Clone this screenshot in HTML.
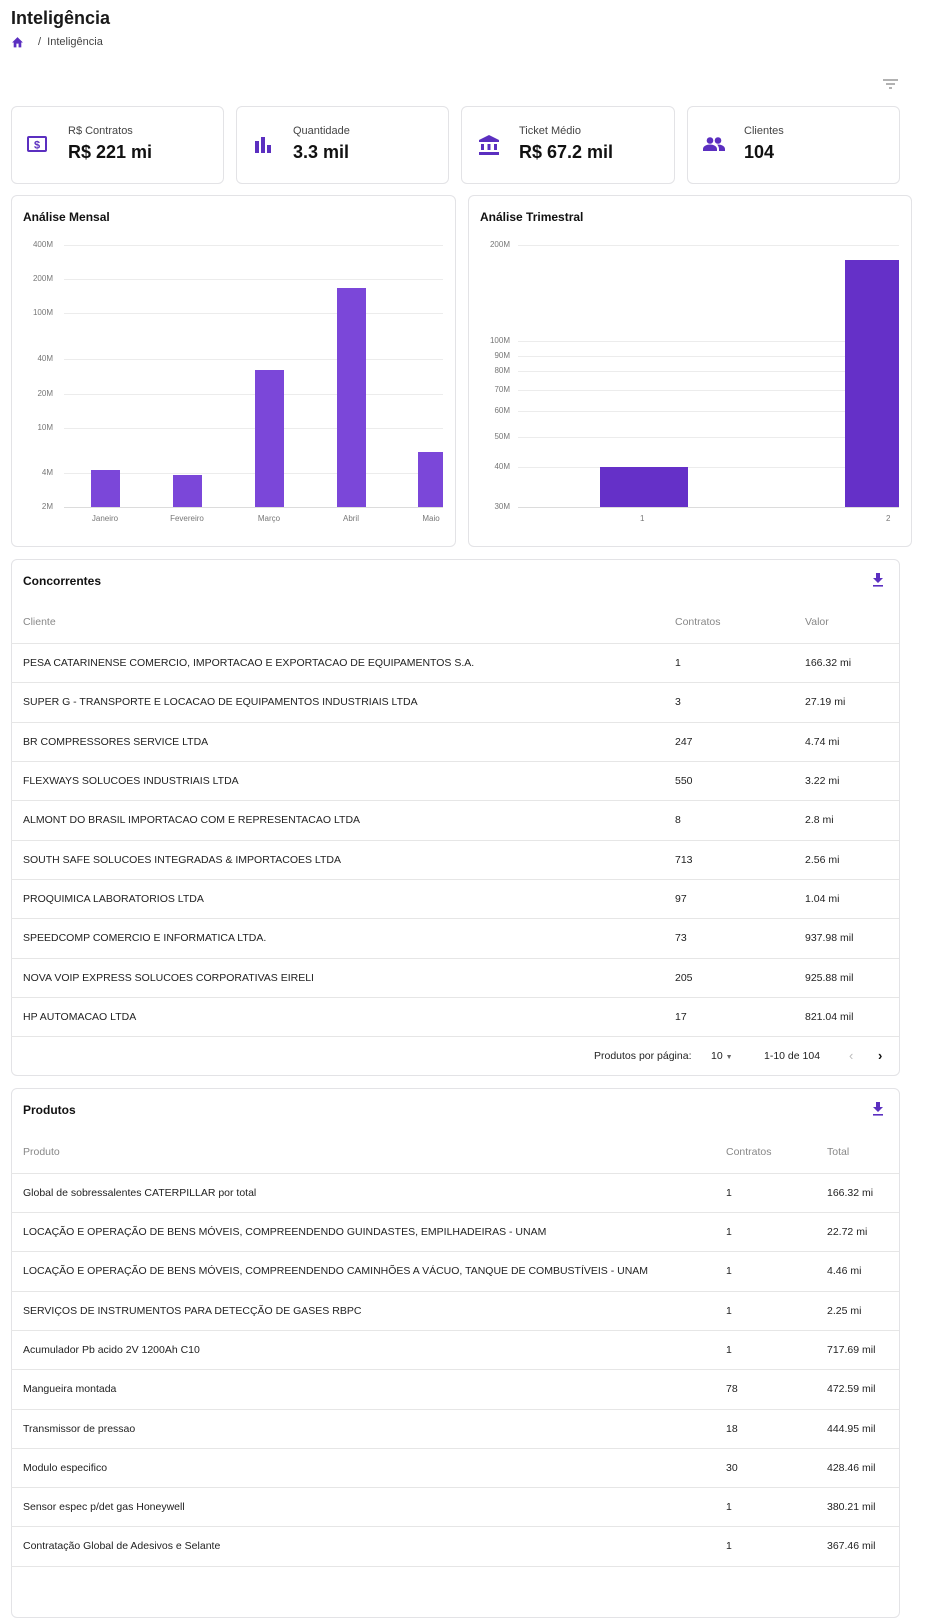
<!DOCTYPE html>
<html><head><meta charset="utf-8"><style>
*{margin:0;padding:0;box-sizing:border-box}
body{width:952px;height:1600px;background:#fff;font-family:"Liberation Sans",sans-serif;color:#1a1a1a;position:relative;overflow:hidden}
.a{position:absolute}
.card{position:absolute;border:1px solid #e3e3e6;border-radius:6px;background:#fff}
.lbl{font-size:11px;color:#444}
.val{font-size:18px;font-weight:bold;color:#111}
.t{font-size:12px;font-weight:bold;color:#111}
.tk{font-size:8px;color:#777;text-align:right;width:40px}
.gl{position:absolute;height:1px;background:#ececec}
.row{position:absolute;left:11px;width:888px;height:1px;background:#e6e6e6}
.c{position:absolute;font-size:10.5px;color:#222;white-space:nowrap}
.h{position:absolute;font-size:10.5px;color:#888}
</style></head><body>
<div class="a" style="left:11px;top:8px;font-size:18px;font-weight:bold">Inteligência</div>
<svg class="a" style="left:11px;top:36px" width="13" height="12" viewBox="0 0 24 22"><path d="M10 21v-7h4v7h5v-9h3L12 2 2 12h3v9z" fill="#5b2fc0"/></svg>
<div class="a" style="left:38px;top:36px;font-size:11px;color:#444">/&nbsp;&nbsp;Inteligência</div>
<svg class="a" style="left:883px;top:78px" width="15" height="12" viewBox="0 0 15 12"><path d="M0 2h15M3 6h9M6 10h3" stroke="#999" stroke-width="1.4"/></svg>

<div class="card" style="left:11px;top:106px;width:213px;height:78px"></div>
<div class="card" style="left:236px;top:106px;width:213px;height:78px"></div>
<div class="card" style="left:461px;top:106px;width:214px;height:78px"></div>
<div class="card" style="left:687px;top:106px;width:213px;height:78px"></div>
<svg class="a" style="left:27px;top:136px" width="20" height="16" viewBox="0 0 20 16"><rect x="1" y="1" width="18" height="14" rx="1" fill="none" stroke="#5b2fc0" stroke-width="2"/><text x="10" y="12.5" font-size="11" font-weight="bold" fill="#5b2fc0" text-anchor="middle" font-family="Liberation Sans">$</text></svg>
<div class="a lbl" style="left:68px;top:125px">R$ Contratos</div>
<div class="a val" style="left:68px;top:142px">R$ 221 mi</div>
<svg class="a" style="left:255px;top:137px" width="16" height="16" viewBox="0 0 16 16"><rect x="0" y="4" width="4" height="12" fill="#5b2fc0"/><rect x="6" y="0" width="4" height="16" fill="#5b2fc0"/><rect x="12" y="8" width="4" height="8" fill="#5b2fc0"/></svg>
<div class="a lbl" style="left:293px;top:125px">Quantidade</div>
<div class="a val" style="left:293px;top:142px">3.3 mil</div>
<svg class="a" style="left:479px;top:135px" width="20" height="20" viewBox="0 0 20 20"><path d="M10 0L0 5v2h20V5z M2 9h3v6H2z M8.5 9h3v6h-3z M15 9h3v6h-3z M0 17h20v3H0z" fill="#5b2fc0"/></svg>
<div class="a lbl" style="left:519px;top:125px">Ticket Médio</div>
<div class="a val" style="left:519px;top:142px">R$ 67.2 mil</div>
<svg class="a" style="left:703px;top:137px" width="22" height="14" viewBox="0 0 22 14"><circle cx="7" cy="3.5" r="3.3" fill="#5b2fc0"/><circle cx="15" cy="3.5" r="3.3" fill="#5b2fc0"/><path d="M0 14v-2c0-3 4-4.5 7-4.5s7 1.5 7 4.5v2z M15 7.5c3 0 7 1.5 7 4.5v2h-6v-2c0-1.6-.7-3-1.8-4.4z" fill="#5b2fc0"/></svg>
<div class="a lbl" style="left:744px;top:125px">Clientes</div>
<div class="a val" style="left:744px;top:142px">104</div>

<!-- Left chart -->
<div class="card" style="left:11px;top:195px;width:445px;height:352px"></div>
<div class="a t" style="left:23px;top:210px">Análise Mensal</div>
<div class="gl" style="left:64px;width:379px;top:245px"></div><div class="a tk" style="left:13px;top:240px">400M</div>
<div class="gl" style="left:64px;width:379px;top:279px"></div><div class="a tk" style="left:13px;top:274px">200M</div>
<div class="gl" style="left:64px;width:379px;top:313px"></div><div class="a tk" style="left:13px;top:308px">100M</div>
<div class="gl" style="left:64px;width:379px;top:359px"></div><div class="a tk" style="left:13px;top:354px">40M</div>
<div class="gl" style="left:64px;width:379px;top:394px"></div><div class="a tk" style="left:13px;top:389px">20M</div>
<div class="gl" style="left:64px;width:379px;top:428px"></div><div class="a tk" style="left:13px;top:423px">10M</div>
<div class="gl" style="left:64px;width:379px;top:473px"></div><div class="a tk" style="left:13px;top:468px">4M</div>
<div class="gl" style="left:64px;width:379px;top:507px;background:#dcdcdc"></div><div class="a tk" style="left:13px;top:502px">2M</div>
<div class="a" style="left:91px;top:470px;width:29px;height:37px;background:#7b47d9"></div>
<div class="a" style="left:173px;top:475px;width:29px;height:32px;background:#7b47d9"></div>
<div class="a" style="left:255px;top:370px;width:29px;height:137px;background:#7b47d9"></div>
<div class="a" style="left:337px;top:288px;width:29px;height:219px;background:#7b47d9"></div>
<div class="a" style="left:418px;top:452px;width:25px;height:55px;background:#7b47d9"></div>
<div class="a" style="font-size:8px;color:#777;top:514px;left:75px;width:60px;text-align:center">Janeiro</div>
<div class="a" style="font-size:8px;color:#777;top:514px;left:157px;width:60px;text-align:center">Fevereiro</div>
<div class="a" style="font-size:8px;color:#777;top:514px;left:239px;width:60px;text-align:center">Março</div>
<div class="a" style="font-size:8px;color:#777;top:514px;left:321px;width:60px;text-align:center">Abril</div>
<div class="a" style="font-size:8px;color:#777;top:514px;left:401px;width:60px;text-align:center">Maio</div>

<!-- Right chart -->
<div class="card" style="left:468px;top:195px;width:444px;height:352px"></div>
<div class="a t" style="left:480px;top:210px">Análise Trimestral</div>
<div class="gl" style="left:518px;width:381px;top:245px"></div><div class="a tk" style="left:470px;top:240px">200M</div>
<div class="gl" style="left:518px;width:381px;top:341px"></div><div class="a tk" style="left:470px;top:336px">100M</div>
<div class="gl" style="left:518px;width:381px;top:356px"></div><div class="a tk" style="left:470px;top:351px">90M</div>
<div class="gl" style="left:518px;width:381px;top:371px"></div><div class="a tk" style="left:470px;top:366px">80M</div>
<div class="gl" style="left:518px;width:381px;top:390px"></div><div class="a tk" style="left:470px;top:385px">70M</div>
<div class="gl" style="left:518px;width:381px;top:411px"></div><div class="a tk" style="left:470px;top:406px">60M</div>
<div class="gl" style="left:518px;width:381px;top:437px"></div><div class="a tk" style="left:470px;top:432px">50M</div>
<div class="gl" style="left:518px;width:381px;top:467px"></div><div class="a tk" style="left:470px;top:462px">40M</div>
<div class="gl" style="left:518px;width:381px;top:507px;background:#dcdcdc"></div><div class="a tk" style="left:470px;top:502px">30M</div>
<div class="a" style="left:600px;top:467px;width:88px;height:40px;background:#6530c8"></div>
<div class="a" style="left:845px;top:260px;width:54px;height:247px;background:#6530c8"></div>
<div class="a" style="font-size:8px;color:#777;top:514px;left:640px">1</div>
<div class="a" style="font-size:8px;color:#777;top:514px;left:886px">2</div>

<!-- Concorrentes -->
<div class="card" style="left:11px;top:559px;width:889px;height:517px"></div>
<div class="a t" style="left:23px;top:574px">Concorrentes</div>
<svg class="a" style="left:872px;top:573px" width="12" height="14" viewBox="0 0 12 14"><path d="M4 0h4v5h3L6 10 1 5h3z" fill="#5b2fc0"/><rect x="1" y="12" width="10" height="1.6" fill="#5b2fc0"/></svg>
<div class="h" style="left:23px;top:616px">Cliente</div><div class="h" style="left:675px;top:616px">Contratos</div><div class="h" style="left:805px;top:616px">Valor</div>
<div class="row" style="top:643px"></div><div class="row" style="top:682px"></div><div class="row" style="top:722px"></div><div class="row" style="top:761px"></div><div class="row" style="top:800px"></div><div class="row" style="top:840px"></div><div class="row" style="top:879px"></div><div class="row" style="top:918px"></div><div class="row" style="top:958px"></div><div class="row" style="top:997px"></div><div class="row" style="top:1036px"></div>
<div class="c" style="left:23px;top:657px">PESA CATARINENSE COMERCIO, IMPORTACAO E EXPORTACAO DE EQUIPAMENTOS S.A.</div><div class="c" style="left:675px;top:657px">1</div><div class="c" style="left:805px;top:657px">166.32 mi</div>
<div class="c" style="left:23px;top:696px">SUPER G - TRANSPORTE E LOCACAO DE EQUIPAMENTOS INDUSTRIAIS LTDA</div><div class="c" style="left:675px;top:696px">3</div><div class="c" style="left:805px;top:696px">27.19 mi</div>
<div class="c" style="left:23px;top:736px">BR COMPRESSORES SERVICE LTDA</div><div class="c" style="left:675px;top:736px">247</div><div class="c" style="left:805px;top:736px">4.74 mi</div>
<div class="c" style="left:23px;top:775px">FLEXWAYS SOLUCOES INDUSTRIAIS LTDA</div><div class="c" style="left:675px;top:775px">550</div><div class="c" style="left:805px;top:775px">3.22 mi</div>
<div class="c" style="left:23px;top:814px">ALMONT DO BRASIL IMPORTACAO COM E REPRESENTACAO LTDA</div><div class="c" style="left:675px;top:814px">8</div><div class="c" style="left:805px;top:814px">2.8 mi</div>
<div class="c" style="left:23px;top:854px">SOUTH SAFE SOLUCOES INTEGRADAS &amp; IMPORTACOES LTDA</div><div class="c" style="left:675px;top:854px">713</div><div class="c" style="left:805px;top:854px">2.56 mi</div>
<div class="c" style="left:23px;top:893px">PROQUIMICA LABORATORIOS LTDA</div><div class="c" style="left:675px;top:893px">97</div><div class="c" style="left:805px;top:893px">1.04 mi</div>
<div class="c" style="left:23px;top:932px">SPEEDCOMP COMERCIO E INFORMATICA LTDA.</div><div class="c" style="left:675px;top:932px">73</div><div class="c" style="left:805px;top:932px">937.98 mil</div>
<div class="c" style="left:23px;top:972px">NOVA VOIP EXPRESS SOLUCOES CORPORATIVAS EIRELI</div><div class="c" style="left:675px;top:972px">205</div><div class="c" style="left:805px;top:972px">925.88 mil</div>
<div class="c" style="left:23px;top:1011px">HP AUTOMACAO LTDA</div><div class="c" style="left:675px;top:1011px">17</div><div class="c" style="left:805px;top:1011px">821.04 mil</div>
<div class="c" style="left:594px;top:1050px">Produtos por página:</div>
<div class="c" style="left:711px;top:1050px">10 <span style="font-size:7px;color:#666">▼</span></div>
<div class="c" style="left:764px;top:1050px">1-10 de 104</div>
<div class="c" style="left:849px;top:1048px;color:#bbb;font-size:13px">‹</div>
<div class="c" style="left:878px;top:1048px;color:#111;font-size:13px;font-weight:bold">›</div>

<!-- Produtos -->
<div class="card" style="left:11px;top:1088px;width:889px;height:530px"></div>
<div class="a t" style="left:23px;top:1103px">Produtos</div>
<svg class="a" style="left:872px;top:1102px" width="12" height="14" viewBox="0 0 12 14"><path d="M4 0h4v5h3L6 10 1 5h3z" fill="#5b2fc0"/><rect x="1" y="12" width="10" height="1.6" fill="#5b2fc0"/></svg>
<div class="h" style="left:23px;top:1146px">Produto</div><div class="h" style="left:726px;top:1146px">Contratos</div><div class="h" style="left:827px;top:1146px">Total</div>
<div class="row" style="top:1173px"></div><div class="row" style="top:1212px"></div><div class="row" style="top:1251px"></div><div class="row" style="top:1291px"></div><div class="row" style="top:1330px"></div><div class="row" style="top:1369px"></div><div class="row" style="top:1409px"></div><div class="row" style="top:1448px"></div><div class="row" style="top:1487px"></div><div class="row" style="top:1526px"></div><div class="row" style="top:1566px"></div>
<div class="c" style="left:23px;top:1187px">Global de sobressalentes CATERPILLAR por total</div><div class="c" style="left:726px;top:1187px">1</div><div class="c" style="left:827px;top:1187px">166.32 mi</div>
<div class="c" style="left:23px;top:1226px">LOCAÇÃO E OPERAÇÃO DE BENS MÓVEIS, COMPREENDENDO GUINDASTES, EMPILHADEIRAS - UNAM</div><div class="c" style="left:726px;top:1226px">1</div><div class="c" style="left:827px;top:1226px">22.72 mi</div>
<div class="c" style="left:23px;top:1265px">LOCAÇÃO E OPERAÇÃO DE BENS MÓVEIS, COMPREENDENDO CAMINHÕES A VÁCUO, TANQUE DE COMBUSTÍVEIS - UNAM</div><div class="c" style="left:726px;top:1265px">1</div><div class="c" style="left:827px;top:1265px">4.46 mi</div>
<div class="c" style="left:23px;top:1305px">SERVIÇOS DE INSTRUMENTOS PARA DETECÇÃO DE GASES RBPC</div><div class="c" style="left:726px;top:1305px">1</div><div class="c" style="left:827px;top:1305px">2.25 mi</div>
<div class="c" style="left:23px;top:1344px">Acumulador Pb acido 2V 1200Ah C10</div><div class="c" style="left:726px;top:1344px">1</div><div class="c" style="left:827px;top:1344px">717.69 mil</div>
<div class="c" style="left:23px;top:1383px">Mangueira montada</div><div class="c" style="left:726px;top:1383px">78</div><div class="c" style="left:827px;top:1383px">472.59 mil</div>
<div class="c" style="left:23px;top:1423px">Transmissor de pressao</div><div class="c" style="left:726px;top:1423px">18</div><div class="c" style="left:827px;top:1423px">444.95 mil</div>
<div class="c" style="left:23px;top:1462px">Modulo especifico</div><div class="c" style="left:726px;top:1462px">30</div><div class="c" style="left:827px;top:1462px">428.46 mil</div>
<div class="c" style="left:23px;top:1501px">Sensor espec p/det gas Honeywell</div><div class="c" style="left:726px;top:1501px">1</div><div class="c" style="left:827px;top:1501px">380.21 mil</div>
<div class="c" style="left:23px;top:1540px">Contratação Global de Adesivos e Selante</div><div class="c" style="left:726px;top:1540px">1</div><div class="c" style="left:827px;top:1540px">367.46 mil</div>
</body></html>
